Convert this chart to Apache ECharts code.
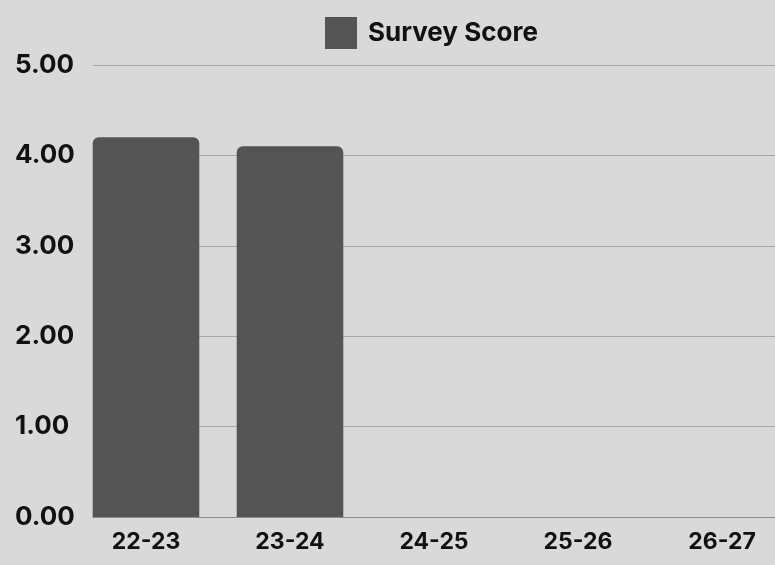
<!DOCTYPE html>
<html>
<head>
<meta charset="utf-8">
<script src="https://cdn.jsdelivr.net/npm/echarts@6/dist/echarts.min.js"></script>
<style>html,body{margin:0;padding:0;background:#d9d9d9;overflow:hidden;width:775px;height:565px;}#c{width:794px;height:565px;}</style>
</head>
<body>
<div id="c"></div>
<script>
var categories = ['22-23', '23-24', '24-25', '25-26', '26-27'];
var surveyScore = [4.2, 4.1, null, null, null];
var seriesName = 'Survey Score';
var yMin = 0, yMax = 5, yStep = 1;

var FONT = 'Inter, sans-serif';
var chart = echarts.init(document.getElementById('c'));
chart.setOption({
  backgroundColor: '#d9d9d9',
  animation: false,
  legend: {
    left: 320, top: 12,
    itemWidth: 32, itemHeight: 32, icon: 'rect',
    data: [seriesName],
    textStyle: { fontFamily: FONT, fontWeight: 'bold', fontSize: 26, color: '#111', padding: [0, 0, 0, 6] }
  },
  grid: [
    { left: 74, right: 0, top: 65, height: 452 },
    { left: 93, right: 19, top: 65, height: 452 }
  ],
  xAxis: [
    {
      gridIndex: 0, type: 'category', data: categories,
      axisLine: { show: false }, axisTick: { show: false },
      axisLabel: { margin: 14, fontFamily: FONT, fontWeight: 'bold', fontSize: 23, color: '#111' }
    },
    {
      gridIndex: 1, type: 'value', min: 0, max: 1,
      axisLine: { show: true, lineStyle: { color: '#8a8a8a', width: 1 } },
      axisTick: { show: false }, axisLabel: { show: false }, splitLine: { show: false }
    }
  ],
  yAxis: [
    {
      gridIndex: 0, type: 'value', min: yMin, max: yMax, interval: yStep,
      axisLine: { show: false }, axisTick: { show: false }, axisLabel: { show: false }, splitLine: { show: false }
    },
    {
      gridIndex: 1, type: 'value', min: yMin, max: yMax, interval: yStep,
      axisLine: { show: false }, axisTick: { show: false },
      splitLine: { lineStyle: { color: '#a8a8a8', width: 1 } },
      axisLabel: {
        align: 'left', margin: 78, padding: [4, 0, 0, 0],
        fontFamily: FONT, fontWeight: 'bold', fontSize: 26, color: '#111',
        formatter: function (v) { return v.toFixed(2); }
      }
    }
  ],
  series: [{
    name: seriesName, type: 'bar', xAxisIndex: 0, yAxisIndex: 0,
    data: surveyScore, barCategoryGap: '26%',
    itemStyle: { color: '#545454', borderRadius: [6, 6, 0, 0] }
  }]
});
</script>
</body>
</html>
